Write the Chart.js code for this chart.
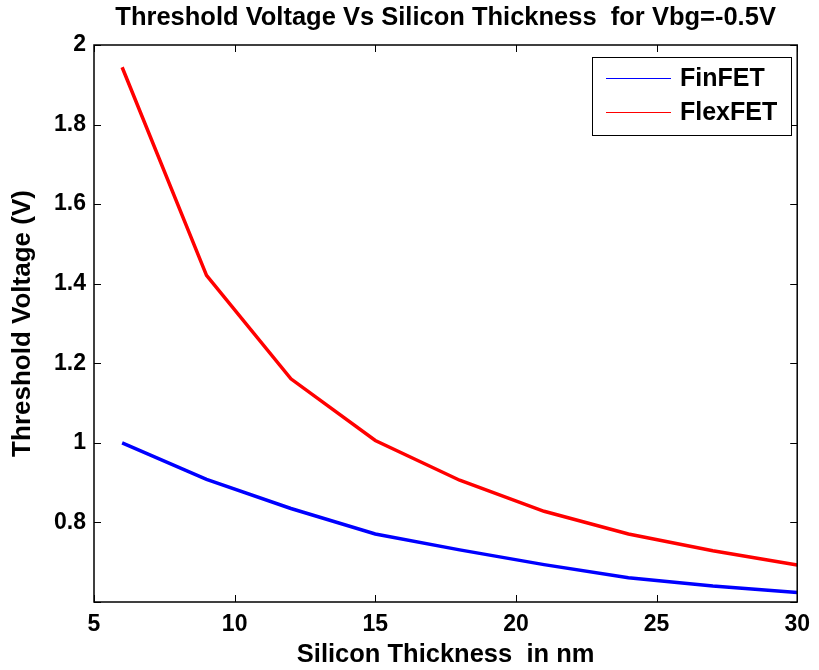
<!DOCTYPE html>
<html>
<head>
<meta charset="utf-8">
<title>Threshold Voltage Vs Silicon Thickness</title>
<script src="https://cdn.jsdelivr.net/npm/chart.js@4.4.0/dist/chart.umd.min.js"></script>
<style>
  html, body { margin: 0; padding: 0; background: #ffffff; }
  #wrap { width: 819px; height: 670px; }
</style>
</head>
<body>
<div id="wrap"><canvas id="vtChart" width="819" height="670"></canvas></div>
<script>
// silicon thickness (nm) and threshold voltage (V) for Vbg = -0.5 V
const thickness = [6, 9, 12, 15, 18, 21, 24, 27, 30];
const finfetVt = [1.000, 0.908, 0.835, 0.771, 0.731, 0.694, 0.661, 0.640, 0.624];
const flexfetVt = [1.944, 1.421, 1.161, 1.006, 0.906, 0.828, 0.771, 0.729, 0.693];
const seriesNames = ["FinFET", "FlexFET"];
const seriesColors = ["#0000ff", "#ff0000"];

const chartTitle = "Threshold Voltage Vs Silicon Thickness  for Vbg=-0.5V";
const xTitle = "Silicon Thickness  in nm";
const yTitle = "Threshold Voltage (V)";

const FONT = "'Liberation Sans', Arial, Helvetica, sans-serif";

function toPoints(ys) {
    return thickness.map((t, i) => ({ x: t, y: ys[i] }));
}

// box, inward ticks on all four sides, title and legend
const matlabFrame = {
    id: "matlabFrame",
    afterDraw(chart) {
        const ctx = chart.ctx;
        const a = chart.chartArea;
        const xs = chart.scales.x;
        const ys = chart.scales.y;
        const tickLen = 7;

        ctx.save();
        ctx.strokeStyle = "#000";
        ctx.lineWidth = 1.5;
        ctx.strokeRect(a.left, a.top, a.right - a.left, a.bottom - a.top);

        ctx.lineWidth = 1;
        ctx.beginPath();
        xs.ticks.forEach(t => {
            const px = Math.round(xs.getPixelForValue(t.value)) + 0.5;
            ctx.moveTo(px, a.bottom);
            ctx.lineTo(px, a.bottom - tickLen);
            ctx.moveTo(px, a.top);
            ctx.lineTo(px, a.top + tickLen);
        });
        ys.ticks.forEach(t => {
            const py = Math.round(ys.getPixelForValue(t.value)) + 0.5;
            ctx.moveTo(a.left, py);
            ctx.lineTo(a.left + tickLen, py);
            ctx.moveTo(a.right, py);
            ctx.lineTo(a.right - tickLen, py);
        });
        ctx.stroke();

        // title
        ctx.fillStyle = "#000";
        ctx.font = "bold 25.5px " + FONT;
        ctx.textAlign = "center";
        ctx.textBaseline = "middle";
        ctx.fillText(chartTitle, (a.left + a.right) / 2, 18);

        // legend
        const boxL = 592, boxT = 57, boxW = 199, boxH = 78;
        ctx.fillStyle = "#fff";
        ctx.fillRect(boxL, boxT, boxW, boxH);
        ctx.strokeStyle = "#000";
        ctx.lineWidth = 1;
        ctx.strokeRect(boxL + 0.5, boxT + 0.5, boxW, boxH);
        ctx.font = "bold 25px " + FONT;
        ctx.textAlign = "left";
        chart.data.datasets.forEach((ds, i) => {
            const y = 78 + i * 34;
            ctx.strokeStyle = ds.borderColor;
            ctx.lineWidth = 1;
            ctx.beginPath();
            ctx.moveTo(606, y + 0.5);
            ctx.lineTo(671, y + 0.5);
            ctx.stroke();
            ctx.fillStyle = "#000";
            ctx.fillText(ds.label, 680, y + 1);
        });
        ctx.restore();
    }
};

const ctx = document.getElementById("vtChart").getContext("2d");
new Chart(ctx, {
    type: "line",
    data: {
        datasets: [
            {
                label: seriesNames[0],
                data: toPoints(finfetVt),
                borderColor: seriesColors[0],
                borderWidth: 3.5,
                pointRadius: 0,
                tension: 0,
                fill: false
            },
            {
                label: seriesNames[1],
                data: toPoints(flexfetVt),
                borderColor: seriesColors[1],
                borderWidth: 3.5,
                pointRadius: 0,
                tension: 0,
                fill: false
            }
        ]
    },
    options: {
        responsive: false,
        devicePixelRatio: 1,
        animation: false,
        layout: { padding: { top: 45, right: 20, left: 0, bottom: 0 } },
        plugins: {
            legend: { display: false },
            title: { display: false },
            tooltip: { enabled: false }
        },
        scales: {
            x: {
                type: "linear",
                min: 5,
                max: 30,
                grid: { display: false, drawTicks: false },
                border: { display: false },
                ticks: {
                    stepSize: 5,
                    padding: 9,
                    color: "#000",
                    font: { family: FONT, size: 23, weight: "bold" }
                },
                title: {
                    display: true,
                    text: xTitle,
                    color: "#000",
                    padding: { top: 0, bottom: 0 },
                    font: { family: FONT, size: 25.5, weight: "bold" }
                },
                afterFit(scale) { scale.height = 68; }
            },
            y: {
                min: 0.6,
                max: 2,
                grid: { display: false, drawTicks: false },
                border: { display: false },
                ticks: {
                    stepSize: 0.2,
                    padding: 8,
                    color: "#000",
                    font: { family: FONT, size: 23, weight: "bold" },
                    callback(v) {
                        const r = Math.round(v * 10) / 10;
                        return r < 0.7 ? "" : String(r);
                    }
                },
                title: {
                    display: true,
                    text: yTitle,
                    color: "#000",
                    padding: { top: 7, bottom: 0 },
                    font: { family: FONT, size: 26, weight: "bold" }
                },
                afterFit(scale) { scale.width = 94; }
            }
        }
    },
    plugins: [matlabFrame]
});
</script>
</body>
</html>
